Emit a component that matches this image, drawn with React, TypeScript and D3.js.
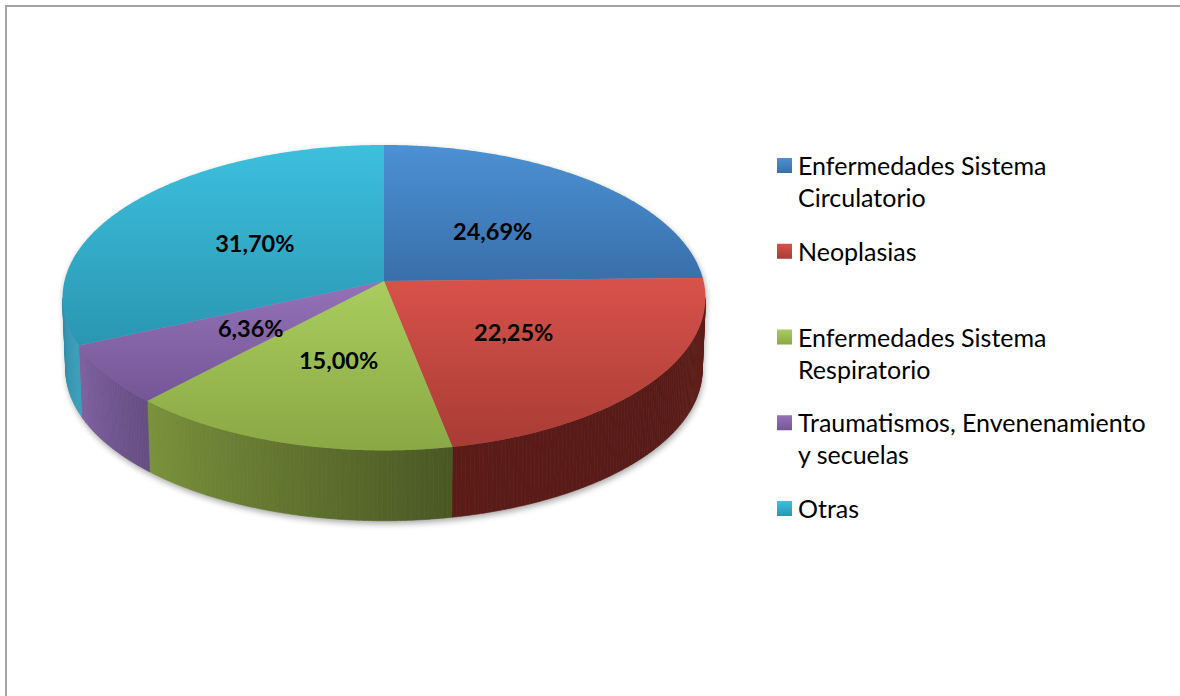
import React from "react";
import * as d3 from "d3";

// Causes of death, share of total (%)
const categories = [
  "Enfermedades Sistema Circulatorio",
  "Neoplasias",
  "Enfermedades Sistema Respiratorio",
  "Traumatismos, Envenenamiento y secuelas",
  "Otras",
];
const values = [24.69, 22.25, 15.0, 6.36, 31.7];

// Top-face gradient (light -> dark) and the side tone at full light
const topLight = ["#4b91d4", "#d8524a", "#aacd5e", "#9472b8", "#3cc0de"];
const topDark = ["#396fab", "#a83c35", "#8aa844", "#745696", "#2a96b2"];
const sideTone = ["#4f81bd", "#be3a32", "#9bb94b", "#8062a4", "#3ca5c3"];

const W = 1180;
const H = 696;

// Pie projection: centre, radii, perspective strength, extrusion depth
const CX = 384;
const CY = 281;
const RX = 319.5;
const RY = 150.9;
const PERSP = 0.1094;
const DEPTH = 72;
const SHRINK = 0.99;

const deg = Math.PI / 180;

function topPt(t: number): [number, number] {
  const w = 1 + PERSP * Math.cos(t);
  return [CX + (RX * Math.sin(t)) / w, CY - (RY * Math.cos(t)) / w];
}
function bottomPt(t: number): [number, number] {
  const w = 1 + PERSP * Math.cos(t);
  return [
    CX + (SHRINK * RX * Math.sin(t)) / w,
    CY + DEPTH - (SHRINK * RY * Math.cos(t)) / w,
  ];
}
function innerPt(t: number, f: number): [number, number] {
  const w = 1 + PERSP * f * Math.cos(t);
  return [CX + (RX * f * Math.sin(t)) / w, CY - (RY * f * Math.cos(t)) / w];
}

function arcPoints(
  fn: (t: number) => [number, number],
  a0: number,
  a1: number
): [number, number][] {
  const n = Math.max(2, Math.ceil(Math.abs(a1 - a0) / (0.5 * deg)));
  return d3.range(n + 1).map((i) => fn(a0 + ((a1 - a0) * i) / n));
}

// Light falling on the outer wall, by angle around the pie
const sideLight = d3
  .scaleLinear()
  .domain([96, 130, 170, 223, 245, 264].map((d) => d * deg))
  .range([0.5, 0.46, 0.48, 0.79, 0.98, 0.85])
  .clamp(true);

function wrap(text: string, limit: number): string[] {
  const lines: string[] = [];
  let cur = "";
  text.split(" ").forEach((w) => {
    const next = cur ? cur + " " + w : w;
    if (next.length > limit && cur) {
      lines.push(cur);
      cur = w;
    } else cur = next;
  });
  if (cur) lines.push(cur);
  return lines;
}

const fmt = (v: number) => v.toFixed(2).replace(".", ",") + "%";

export default function App() {
  const arcs = d3
    .pie<number>()
    .sort(null)
    .startAngle(0)
    .endAngle(2 * Math.PI)(values);

  const line = d3.line();
  const thetaR = Math.acos(-PERSP);
  const thetaL = 2 * Math.PI - thetaR;

  // outer wall strips
  const strips: { d: string; c: string }[] = [];
  arcs.forEach((a, i) => {
    const s = Math.max(a.startAngle, thetaR);
    const e = Math.min(a.endAngle, thetaL);
    if (e <= s) return;
    const n = Math.ceil((e - s) / (0.75 * deg));
    for (let k = 0; k < n; k++) {
      const t0 = s + ((e - s) * k) / n;
      const t1 = s + ((e - s) * (k + 1)) / n;
      const pts = [...arcPoints(topPt, t0, t1), ...arcPoints(bottomPt, t1, t0)];
      const base = d3.rgb(sideTone[i]);
      const l = sideLight((t0 + t1) / 2);
      const c = d3.rgb(base.r * l, base.g * l, base.b * l).formatHex();
      strips.push({ d: line(pts) + "Z", c });
    }
  });

  const shadowPath =
    line(arcPoints(topPt, 0, 2 * Math.PI)) +
    "Z" +
    line([
      ...arcPoints(topPt, thetaR, thetaL),
      ...arcPoints(bottomPt, thetaL, thetaR),
    ]) +
    "Z";

  const legendX = 777;
  const legendY0 = 175;
  const legendStep = 85.75;
  const lineH = 32;

  return (
    <svg
      width={W}
      height={H}
      style={{ position: "fixed", left: 0, top: 0, background: "#fff" }}
    >
      <defs>
        {categories.map((_, i) => (
          <linearGradient key={i} id={`g${i}`} x1="0" y1="0" x2="0" y2="1">
            <stop offset="0" stopColor={topLight[i]} />
            <stop offset="1" stopColor={topDark[i]} />
          </linearGradient>
        ))}
        <filter id="soft" x="-10%" y="-10%" width="120%" height="130%">
          <feGaussianBlur stdDeviation="3" />
        </filter>
      </defs>

      <rect x={6} y={6} width={W + 40} height={H + 40} fill="#fff" stroke="#a3a3a3" strokeWidth={2} />

      <path d={shadowPath} transform="translate(1,3)" fill="#000" opacity={0.35} filter="url(#soft)" />

      <g>
        {strips.map((s, k) => (
          <path key={k} d={s.d} fill={s.c} stroke={s.c} strokeWidth={0.6} />
        ))}
      </g>

      <g>
        {arcs.map((a, i) => {
          const pts: [number, number][] = [
            [CX, CY],
            ...arcPoints(topPt, a.startAngle, a.endAngle),
          ];
          return <path key={i} d={line(pts) + "Z"} fill={`url(#g${i})`} />;
        })}
      </g>

      <g fontFamily="Lato, 'DejaVu Sans', sans-serif" fontWeight={700} fontSize={23.5} fill="#000">
        {arcs.map((a, i) => {
          const [x, y] = innerPt((a.startAngle + a.endAngle) / 2, 0.5);
          return (
            <text key={i} x={x + 1} y={y + 2} textAnchor="middle" dominantBaseline="central">
              {fmt(values[i])}
            </text>
          );
        })}
      </g>

      <g fontFamily="Lato, 'DejaVu Sans', sans-serif" fontSize={25} fill="#000">
        {categories.map((c, i) => {
          const by = legendY0 + i * legendStep;
          return (
            <g key={i}>
              <rect x={legendX} y={by - 17} width={15} height={15} fill={`url(#g${i})`} />
              <text x={legendX + 21} y={by}>
                {wrap(c, 28).map((ln, j) => (
                  <tspan key={j} x={legendX + 21} y={by + j * lineH}>
                    {ln}
                  </tspan>
                ))}
              </text>
            </g>
          );
        })}
      </g>
    </svg>
  );
}
